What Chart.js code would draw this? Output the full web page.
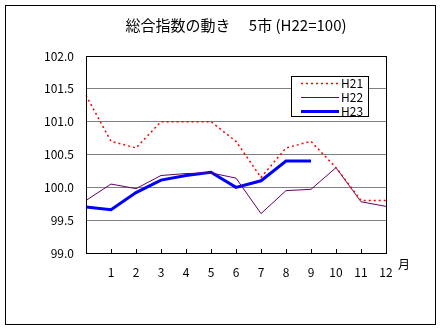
<!DOCTYPE html>
<html>
<head>
<meta charset="utf-8">
<script src="https://cdn.jsdelivr.net/npm/chart.js@4"></script>
<style>
body { margin: 0; background: #fff; }
</style>
</head>
<body>
<canvas id="chart" width="445" height="328"></canvas>
<script>
// data
const months = ['', '1', '2', '3', '4', '5', '6', '7', '8', '9', '10', '11', '12'];
const h21 = [101.4, 100.7, 100.6, 101.0, 101.0, 101.0, 100.7, 100.15, 100.6, 100.7, 100.3, 99.8, 99.8];
const h22 = [99.8, 100.05, 99.98, 100.18, 100.21, 100.22, 100.14, 99.6, 99.95, 99.97, 100.3, 99.78, 99.71];
const h23 = [99.7, 99.66, 99.92, 100.11, 100.18, 100.23, 100.0, 100.1, 100.4, 100.4];
const yMin = 99.0;
const yMax = 102.0;
const yStep = 0.5;

const FONT = '"Noto Sans CJK JP", "Noto Sans", sans-serif';

// outer frame, plot border, inward ticks and the 月 label
const frame = {
	id: 'frame',
	beforeDraw(chart) {
		const c = chart.ctx;
		c.save();
		c.fillStyle = '#fff';
		c.fillRect(0, 0, chart.width, chart.height);
		c.strokeStyle = '#000';
		c.lineWidth = 1;
		c.strokeRect(5.5, 5.5, 430, 319);
		c.restore();
	},
	afterDraw(chart) {
		const c = chart.ctx, a = chart.chartArea, xs = chart.scales.x;
		c.save();
		c.strokeStyle = '#000';
		c.lineWidth = 1;
		c.strokeRect(a.left + 0.5, a.top + 0.5, a.right - a.left, a.bottom - a.top);
		c.beginPath();
		for (let i = 1; i < months.length; i++) {
			const px = Math.round(xs.getPixelForValue(i)) + 0.5;
			c.moveTo(px, a.bottom);
			c.lineTo(px, a.bottom - 4);
		}
		c.stroke();
		c.fillStyle = '#000';
		c.font = '12px ' + FONT;
		c.textAlign = 'center';
		c.textBaseline = 'middle';
		c.fillText('月', a.right + 18, a.bottom + 11);
		c.restore();
	}
};

// legend box inside the plot, top right
const boxLegend = {
	id: 'boxLegend',
	afterDraw(chart) {
		const c = chart.ctx, a = chart.chartArea;
		const w = 77, h = 40;
		const left = a.right - 18 - w, top = a.top + 20;
		c.save();
		c.fillStyle = '#fff';
		c.fillRect(left, top, w, h);
		c.strokeStyle = '#000';
		c.lineWidth = 1;
		c.strokeRect(left + 0.5, top + 0.5, w, h);
		chart.data.datasets.forEach((ds, i) => {
			const y = top + 7.5 + i * 14;
			c.beginPath();
			c.strokeStyle = ds.borderColor;
			c.lineWidth = ds.borderWidth;
			c.setLineDash(ds.borderDash || []);
			c.moveTo(left + 10, y);
			c.lineTo(left + 48, y);
			c.stroke();
			c.setLineDash([]);
			c.fillStyle = '#000';
			c.font = '12px ' + FONT;
			c.textAlign = 'left';
			c.textBaseline = 'middle';
			c.fillText(ds.label, left + 50, y);
		});
		c.restore();
	}
};

const chart = new Chart(document.getElementById('chart'), {
	type: 'line',
	data: {
		labels: months,
		datasets: [{
			label: 'H21',
			data: h21,
			borderColor: '#ff0000',
			borderWidth: 1.5,
			borderDash: [2, 3]
		}, {
			label: 'H22',
			data: h22,
			borderColor: '#660066',
			borderWidth: 1
		}, {
			label: 'H23',
			data: h23,
			borderColor: '#0000ff',
			borderWidth: 3
		}]
	},
	options: {
		responsive: false,
		animation: false,
		layout: { padding: { left: 0, right: 59, top: 0, bottom: 0 } },
		elements: {
			point: { radius: 0 },
			line: { tension: 0, fill: false }
		},
		plugins: {
			legend: { display: false },
			tooltip: { enabled: false },
			title: {
				display: true,
				fullSize: false,
				text: '総合指数の動き　 5市 (H22=100)',
				color: '#000',
				font: { family: FONT, size: 15, weight: 'normal', lineHeight: 1.2 },
				padding: { top: 16, bottom: 22 }
			}
		},
		scales: {
			x: {
				offset: false,
				grid: { drawOnChartArea: false, drawTicks: false },
				border: { color: '#000' },
				ticks: {
					color: '#000',
					padding: 12,
					maxRotation: 0,
					autoSkip: false,
					font: { family: FONT, size: 12 }
				},
				afterFit(s) { s.height = 75; }
			},
			y: {
				min: yMin,
				max: yMax,
				grid: { color: '#808080', drawTicks: false },
				border: { color: '#000' },
				ticks: {
					stepSize: yStep,
					color: '#000',
					padding: 12,
					font: { family: FONT, size: 12 },
					callback: v => v.toFixed(1)
				},
				afterFit(s) { s.width = 86; }
			}
		}
	},
	plugins: [frame, boxLegend]
});
</script>
</body>
</html>
